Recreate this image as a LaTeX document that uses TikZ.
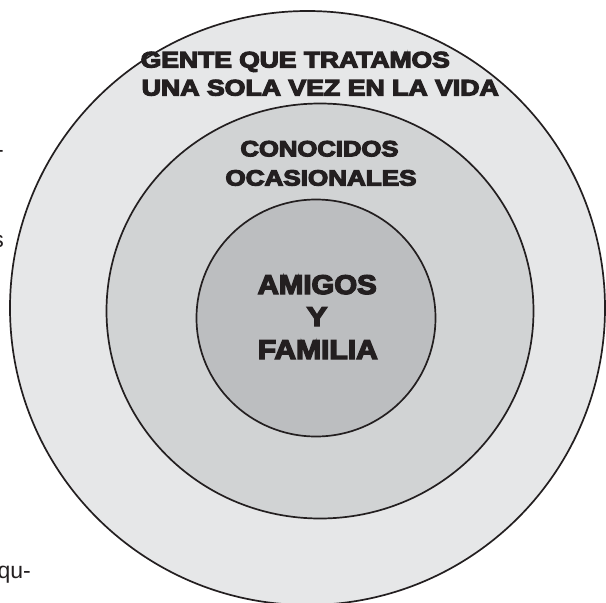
\documentclass[tikz,border=0pt]{standalone}
\usepackage{fontspec}
\usepackage{graphicx}
\newfontfamily\heavyfam{Liberation Sans}[BoldFeatures={FakeBold=5}]
\newfontfamily\plainfam{Liberation Sans}
\definecolor{ringA}{HTML}{E6E7E8}
\definecolor{ringB}{HTML}{D1D3D4}
\definecolor{ringC}{HTML}{BCBEC0}
\definecolor{ink}{HTML}{231F20}
\newcommand\fitline[2]{\resizebox{#1}{\height}{#2}}
\tikzset{
  ring/.style={draw=ink, line width=1.7pt},
  lbl/.style={inner sep=0pt, anchor=base, text=ink},
  outerlbl/.style={lbl, font=\heavyfam\bfseries\fontsize{22.5}{22.5}\selectfont},
  midlbl/.style={lbl, font=\heavyfam\bfseries\fontsize{22}{22}\selectfont},
  innerlbl/.style={lbl, font=\heavyfam\bfseries\fontsize{27}{27}\selectfont},
  fragment/.style={inner sep=0pt, anchor=base east, text=ink, font=\plainfam\fontsize{23}{23}\selectfont}
}
\begin{document}
\begin{tikzpicture}[x=1pt,y=-1pt]
\useasboundingbox (0,0) rectangle (606,603);
\clip (0,0) rectangle (606,603);
% rings
\path[ring, fill=ringA] (307.5,308) ellipse [x radius=297.5pt, y radius=297pt];
\path[ring, fill=ringB] (320,311) ellipse [x radius=213.5pt, y radius=207.5pt];
\path[ring, fill=ringC] (316,318) ellipse [x radius=119.5pt, y radius=118.5pt];
% outer ring label
\node[outerlbl] (outerA) at (295.3,67.5) {\fitline{309pt}{GENTE QUE TRATAMOS}};
\node[outerlbl] (outerB) at (320.3,95.5) {\fitline{357pt}{UNA SOLA VEZ EN LA VIDA}};
% middle ring label
\node[midlbl] (midA) at (319.5,156.3) {\fitline{158pt}{CONOCIDOS}};
\node[midlbl] (midB) at (321,185.5) {\fitline{191pt}{OCASIONALES}};
% inner ring label
\node[innerlbl] (innA) at (317.2,294) {\fitline{119pt}{AMIGOS}};
\node[innerlbl] (innB) at (317,326) {\fitline{20.5pt}{Y}};
\node[innerlbl] (innC) at (317.8,359) {\fitline{120pt}{FAMILIA}};
% cut-off words of the surrounding page
\node[fragment] (fragA) at (4,157.5) {-};
\node[fragment] (fragB) at (4,247) {s};
\node[fragment] (fragC) at (31,578) {qu-};
\end{tikzpicture}
\end{document}
